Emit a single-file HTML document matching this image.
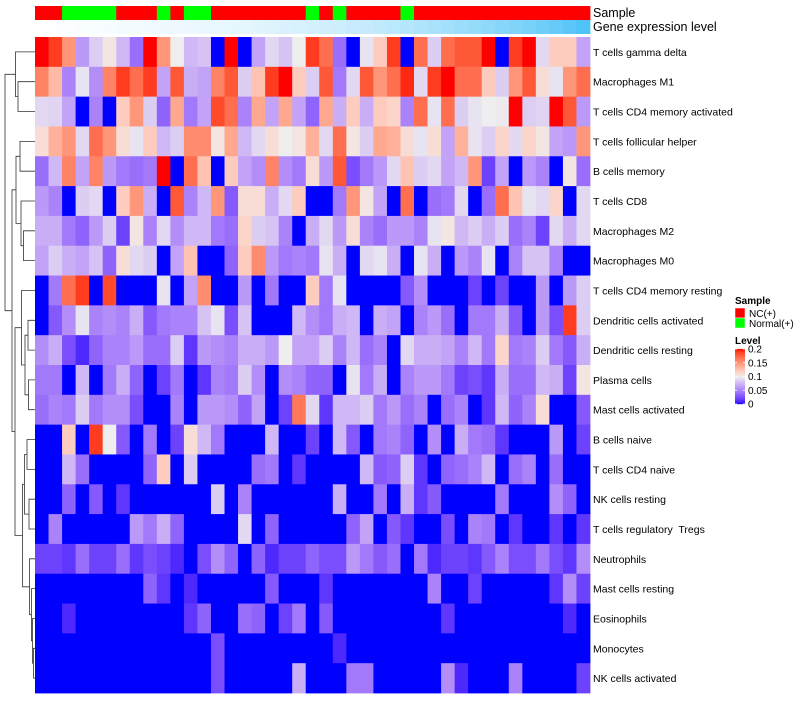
<!DOCTYPE html>
<html><head><meta charset="utf-8">
<style>
html,body{margin:0;padding:0;background:#fff;}
body{width:800px;height:700px;overflow:hidden;font-family:"Liberation Sans",sans-serif;}
svg text{font-family:"Liberation Sans",sans-serif;white-space:pre;}
</style></head>
<body>
<svg id="chart" width="800" height="700" xmlns="http://www.w3.org/2000/svg">
<g id="dendro"></g>
<g id="annot"></g>
<g id="cells"></g>
<g id="labels"></g>
<text x="593" y="17" font-size="12.5" fill="#000">Sample</text>
<text x="593" y="31" font-size="12.5" fill="#000">Gene expression level</text>
<g>
<text x="735" y="304" font-size="10" font-weight="bold">Sample</text>
<rect x="735" y="308" width="10" height="10" fill="#ff0000" stroke="#fff" stroke-width="0.5"/>
<text x="749" y="317" font-size="10">NC(+)</text>
<rect x="735" y="318" width="10" height="10" fill="#00ff00" stroke="#fff" stroke-width="0.5"/>
<text x="749" y="327" font-size="10">Normal(+)</text>
<text x="735" y="344" font-size="10" font-weight="bold">Level</text>
<g id="levelbar"></g>
</g>
</svg>
<script>
const rowNames=["T cells gamma delta","Macrophages M1","T cells CD4 memory activated","T cells follicular helper","B cells memory","T cells CD8","Macrophages M2","Macrophages M0","T cells CD4 memory resting","Dendritic cells activated","Dendritic cells resting","Plasma cells","Mast cells activated","B cells naive","T cells CD4 naive","NK cells resting","T cells regulatory  Tregs","Neutrophils","Mast cells resting","Eosinophils","Monocytes","NK cells activated"];
const sampleGroups=["NC","NC","Normal","Normal","Normal","Normal","NC","NC","NC","Normal","NC","Normal","Normal","NC","NC","NC","NC","NC","NC","NC","Normal","NC","Normal","NC","NC","NC","NC","Normal","NC","NC","NC","NC","NC","NC","NC","NC","NC","NC","NC","NC","NC"];
const geneLevel=[0,0.01,0.02,0.03,0.04,0.05,0.06,0.07,0.08,0.09,0.1,0.11,0.12,0.13,0.14,0.15,0.17,0.19,0.21,0.23,0.25,0.27,0.29,0.31,0.33,0.36,0.39,0.42,0.45,0.48,0.52,0.56,0.6,0.64,0.68,0.72,0.77,0.82,0.87,0.93,1];
const legendTicks=[0,0.05,0.1,0.15,0.2];
const legendTickLabels=["0","0.05","0.1","0.15","0.2"];
const r0=[.2,.19,.15,.06,.085,.105,.075,.04,.2,.15,.1,.075,.08,0,.2,0,.065,.09,.08,.1,.19,.17,.04,0,.095,.12,.19,0,.17,.085,.17,.18,.18,.2,0,.19,.2,.09,.12,.12,.065];
const r1=[.16,.13,.05,.095,.055,.16,.19,.17,.19,.065,.18,.07,.065,.16,.18,.085,.125,.19,.2,.12,.085,.18,.045,.09,.18,.15,.17,.195,.09,.19,.2,.17,.17,.12,.085,.15,.18,.11,.095,.15,.17];
const r2=[.09,.088,.065,0,.05,0,.12,.15,.085,.035,.14,.045,.065,.185,.17,.05,.14,.065,.14,.065,.035,.14,.07,.12,.07,.12,.115,.05,.17,.095,.17,.085,.095,.1,.098,.2,.085,.088,.2,.18,.06];
const r3=[.11,.135,.15,.09,.17,.15,.11,.095,.12,.075,.085,.155,.155,.105,.14,.075,.09,.11,.1,.105,.135,.09,.17,.105,.085,.14,.135,.11,.095,.11,.065,.135,.095,.085,.115,.09,.115,.105,.065,.06,.15];
const r4=[.04,.075,.16,.065,.16,.06,.045,.04,.045,.2,0,.17,.125,0,.12,.065,.055,.16,.055,.045,.11,.06,.18,.025,.045,.06,.09,.125,.085,.09,.065,.075,.15,.02,.065,0,.06,.05,0,.105,.04];
const r5=[.06,.05,0,.085,.09,0,.12,.15,.07,0,.18,.05,.075,.15,.03,.11,.11,.07,.09,.12,0,0,.045,.15,.105,.065,0,.17,0,.04,.045,.09,0,.04,.17,.125,.095,.09,.115,0,.09];
const r6=[.07,.07,.045,.035,.06,.085,.02,.105,.05,.09,.055,.075,.075,.045,.04,.115,.085,.08,.05,0,.07,.09,.06,.11,.05,.04,.06,.06,.05,.095,.105,.075,.085,.07,.085,.04,.05,.02,.09,.07,.09];
const r7=[.065,.085,.07,.065,.08,.035,.11,.09,.085,0,.065,.125,0,0,.035,.12,.155,.06,.045,.05,.045,.095,.07,0,.09,.095,.07,0,.095,.07,0,.06,.05,.095,0,.05,.08,.08,.05,0,0];
const r8=[0,.045,.17,.19,0,.185,0,0,0,.095,0,.065,.155,0,0,.06,0,.045,0,0,.12,.045,.095,0,0,0,0,.03,.055,0,0,0,.02,0,.02,0,0,.06,0,.06,.085];
const r9=[0,.03,.055,.095,.05,.055,.05,.07,.03,.045,.05,.05,.08,.095,.025,.08,0,0,0,.075,.055,.045,.07,.075,0,.07,.065,0,.05,.06,.04,0,.045,.045,.07,.03,0,.06,.025,.19,.085];
const r10=[.055,.07,.025,.01,.035,.05,.05,.06,.04,.04,.085,.015,.06,.055,.05,.07,.07,.06,.1,.065,.065,.085,.05,.075,.04,.05,0,.09,.07,.07,.065,.05,.075,.045,.115,.045,.05,.085,.045,.03,.07];
const r11=[.045,.045,0,.075,0,.045,.07,.035,0,.02,.045,0,.015,.05,.045,.085,.055,0,.055,.05,.035,.035,0,.095,.045,.07,0,.05,.06,.06,.045,.02,.025,.015,.07,.04,.04,.075,.07,.02,.105];
const r12=[.04,.05,.045,.085,.045,.055,.055,.025,0,0,.05,0,.06,.06,.055,.035,.065,0,.02,.165,.09,.015,.075,.075,.085,.045,.06,.04,.05,0,.04,.05,0,.015,.075,.035,.05,.11,0,0,.03];
const r13=[0,0,.12,0,.19,.1,.03,0,.045,0,.02,.11,.075,.045,0,0,0,.075,0,0,.02,0,.075,.03,0,.045,.05,.035,0,.055,0,.07,.045,.04,.015,0,0,0,.06,0,.02];
const r14=[0,0,.075,.04,0,0,0,0,.035,.12,0,.085,0,0,0,0,.04,.045,0,.015,0,0,0,0,.075,.03,.035,.085,.015,0,.035,.04,.05,.075,0,.04,.05,0,.04,0,0];
const r15=[0,0,.035,0,.03,0,.015,0,0,0,0,0,0,.085,0,.05,0,0,0,0,0,0,.07,0,0,.045,0,.07,.015,.03,0,0,0,0,.045,0,0,0,.055,.035,0];
const r16=[0,.05,0,0,0,0,0,.06,.045,.07,.035,0,0,0,0,.09,0,.035,0,0,0,0,0,.035,.065,0,.03,.015,0,0,.025,0,.05,.045,0,.015,0,0,.015,0,.015];
const r17=[.02,.02,.015,.04,.02,.02,.04,.015,.025,.02,.01,0,.025,.055,.035,0,.035,.01,.02,.02,.035,.025,.025,.06,.045,.03,.04,0,.045,.01,.02,.02,.015,.03,.05,.025,.025,.045,.025,.015,.055];
const r18=[0,0,0,0,0,0,0,0,.035,.015,0,.01,0,0,0,0,0,.03,0,0,0,.015,0,0,0,0,0,0,0,.05,0,0,.02,0,0,0,0,0,.015,.055,.02];
const r19=[0,0,.01,0,0,0,0,0,0,0,0,.015,.035,0,0,.04,.035,0,.02,.045,0,.03,0,0,0,0,0,0,0,0,.015,0,0,0,0,0,0,0,0,.01,0];
const r20=[0,0,0,0,0,0,0,0,0,0,0,0,0,.025,0,0,0,0,0,0,0,0,.01,0,0,0,0,0,0,0,0,0,0,0,0,0,0,0,0,0,0];
const r21=[0,0,0,0,0,0,0,0,0,0,0,0,0,.025,0,0,0,0,0,.07,0,0,0,.045,.045,0,0,0,0,0,.055,.01,0,0,0,.05,0,0,0,0,.02];
const matrix=[r0,r1,r2,r3,r4,r5,r6,r7,r8,r9,r10,r11,r12,r13,r14,r15,r16,r17,r18,r19,r20,r21];

const NS="http://www.w3.org/2000/svg";
const X0=35,X1=590,Y0=37,Y1=693;
const nCol=r0.length,nRow=matrix.length;
const cw=(X1-X0)/nCol,rh=(Y1-Y0)/nRow;
const xCol=i=>X0+i*cw, yRow=j=>Y0+j*rh;
const vmin=0,vmid=0.1,vmax=0.2;

function hex2rgb(h){return [parseInt(h.substr(1,2),16),parseInt(h.substr(3,2),16),parseInt(h.substr(5,2),16)];}
function toLin(c){c/=255;return c<=0.04045?c/12.92:Math.pow((c+0.055)/1.055,2.4);}
function fromLin(c){c=c<=0.0031308?12.92*c:1.055*Math.pow(c,1/2.4)-0.055;return Math.max(0,Math.min(255,Math.round(c*255)));}
function rgb2lab(rgb){const [r,g,b]=rgb.map(toLin);let x=(r*0.4124+g*0.3576+b*0.1805)/0.95047,y=(r*0.2126+g*0.7152+b*0.0722),z=(r*0.0193+g*0.1192+b*0.9505)/1.08883;const f=t=>t>0.008856?Math.cbrt(t):7.787*t+16/116;const fx=f(x),fy=f(y),fz=f(z);return [116*fy-16,500*(fx-fy),200*(fy-fz)];}
function lab2rgb(lab){const fy=(lab[0]+16)/116,fx=fy+lab[1]/500,fz=fy-lab[2]/200;const fi=t=>t*t*t>0.008856?t*t*t:(t-16/116)/7.787;const x=fi(fx)*0.95047,y=fi(fy),z=fi(fz)*1.08883;const r=x*3.2406-y*1.5372-z*0.4986,g=-x*0.9689+y*1.8758+z*0.0415,b=x*0.0557-y*0.2040+z*1.0570;return [fromLin(r),fromLin(g),fromLin(b)];}
const LB=rgb2lab(hex2rgb("#0000ff")),LM=rgb2lab(hex2rgb("#eeeeee")),LR=rgb2lab(hex2rgb("#ff0000"));
function colorScale(v){v=Math.max(vmin,Math.min(vmax,v));let a,b,t;if(v<=vmid){a=LB;b=LM;t=(v-vmin)/(vmid-vmin);}else{a=LM;b=LR;t=(v-vmid)/(vmax-vmid);}const l=[0,1,2].map(k=>a[k]+(b[k]-a[k])*t);const c=lab2rgb(l);return "rgb("+c.join(",")+")";}
function geneColor(t){const a=[255,255,255],b=[79,195,247];return "rgb("+a.map((x,k)=>Math.round(x+(b[k]-x)*t)).join(",")+")";}
function mk(tag,attrs,parent){const e=document.createElementNS(NS,tag);for(const k in attrs)e.setAttribute(k,attrs[k]);parent.appendChild(e);return e;}

const cells=document.getElementById("cells");
matrix.forEach((row,j)=>{row.forEach((v,i)=>{
  const r=mk("rect",{x:xCol(i).toFixed(2),y:yRow(j).toFixed(2),width:(cw+0.4).toFixed(2),height:(rh+0.4).toFixed(2),fill:colorScale(v)},cells);
  
  
});});

const annot=document.getElementById("annot");
sampleGroups.forEach((g,i)=>{
  const r=mk("rect",{x:xCol(i).toFixed(2),y:6,width:(cw+0.4).toFixed(2),height:14,fill:g==="NC"?"#ff0000":"#00ff00"},annot);
  
  
});
geneLevel.forEach((t,i)=>{
  const r=mk("rect",{x:xCol(i).toFixed(2),y:20,width:(cw+0.4).toFixed(2),height:14,fill:geneColor(t)},annot);
  
  
});

const labels=document.getElementById("labels");
rowNames.forEach((n,j)=>{
  const t=mk("text",{x:593,y:(yRow(j)+rh/2+4).toFixed(1),"font-size":"10.5",fill:"#000"},labels);
  t.textContent=n;
  
  
});

const tree=[
 [1,2,18],[0,"n0",15.5],[3,4,20],[6,7,23.5],[5,"n3",21],["n2","n4",16],
 [9,10,28],[11,12,28.5],["n6","n7",25],[8,"n8",21.5],
 [13,14,27],[15,16,29],["n10","n11",24.5],[20,21,33.5],[19,"n13",32.5],[18,"n14",31.5],[17,"n15",29.5],["n12","n16",22.5],
 ["n9","n17",15],["n5","n18",12],["n1","n19",5]
];
const dendro=document.getElementById("dendro");
const pos={};
function getPos(k){if(typeof k==="number")return {x:X0,y:yRow(k)+rh/2};return pos[k];}
tree.forEach((nd,i)=>{
  const a=getPos(nd[0]),b=getPos(nd[1]),x=nd[2];
  const p=mk("path",{d:`M${a.x},${a.y.toFixed(1)}H${x}V${b.y.toFixed(1)}H${b.x}`,fill:"none",stroke:"#333","stroke-width":"0.8"},dendro);
  
  
  pos["n"+i]={x:x,y:(a.y+b.y)/2};
});

const lb=document.getElementById("levelbar");
const LBy0=349,LBy1=404;
const ly=v=>LBy1-(v-vmin)/(vmax-vmin)*(LBy1-LBy0);
for(let s=0;s<55;s++){
  const v=vmin+(vmax-vmin)*(s+0.5)/55;
  const r=mk("rect",{x:735,y:(ly(v)-0.6).toFixed(2),width:10,height:1.3,fill:colorScale(v)},lb);
  
  
}
legendTicks.forEach((v,k)=>{
  const y=ly(v);
  const l1=mk("line",{x1:735,x2:737,y1:y,y2:y,stroke:"#fff","stroke-width":0.8},lb);
  
  
  const l2=mk("line",{x1:743,x2:745,y1:y,y2:y,stroke:"#fff","stroke-width":0.8},lb);
  
  
  const t=mk("text",{x:748,y:(y+3.5).toFixed(1),"font-size":"10"},lb);
  t.textContent=legendTickLabels[k];
  
  
});
</script>
</body></html>
